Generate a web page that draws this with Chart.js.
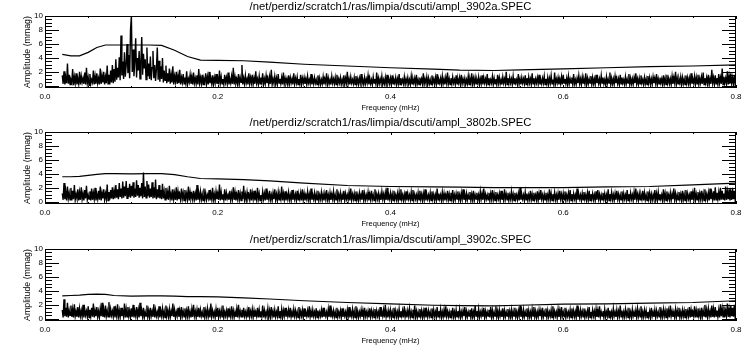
<!DOCTYPE html>
<html>
<head>
<meta charset="utf-8">
<script src="https://cdn.jsdelivr.net/npm/chart.js@4.4.1/dist/chart.umd.min.js"></script>
<style>
  body { margin: 0; background: #fff; }
  .panel { position: absolute; left: 0; width: 751px; height: 116px; }
</style>
</head>
<body>
<div class="panel" style="top:0px"><canvas id="c1" width="751" height="116"></canvas></div>
<div class="panel" style="top:116px"><canvas id="c2" width="751" height="116"></canvas></div>
<div class="panel" style="top:233px"><canvas id="c3" width="751" height="116"></canvas></div>
<script>
// spectrum frequency grid (mHz)
const freqStart = 0.02;
const freqStep = 0.001;

const titles = [
    '/net/perdiz/scratch1/ras/limpia/dscuti/ampl_3902a.SPEC',
    '/net/perdiz/scratch1/ras/limpia/dscuti/ampl_3802b.SPEC',
    '/net/perdiz/scratch1/ras/limpia/dscuti/ampl_3902c.SPEC'
];

const xTicks = [0, 0.2, 0.4, 0.6, 0.8];
const yTicks = [0, 2, 4, 6, 8, 10];

// amplitude spectra (mmag), one row = 0.02 mHz
const ampA = [
    1.5, 0.3, 2.1, 0.2, 1.2, 0.4, 3.2, 0.3, 1.6, 0.2, 0.9, 0.5, 2.4, 0.1, 1.3, 0.4, 1.8, 0.2, 1.0, 0.3,
    2.0, 0.2, 1.4, 0.5, 1.1, 0.3, 1.9, 0.2, 2.6, 0.4, 1.2, 0.1, 1.7, 0.3, 0.9, 0.5, 2.2, 0.2, 1.4, 0.3,
    1.8, 0.4, 1.1, 0.2, 2.5, 0.3, 1.5, 0.5, 2.0, 0.2, 1.3, 0.4, 2.9, 0.3, 1.6, 0.2, 2.2, 0.5, 3.0, 0.4,
    2.4, 0.6, 3.8, 0.9, 2.6, 1.2, 4.1, 0.8, 7.2, 1.5, 3.5, 1.0, 4.8, 1.3, 3.0, 6.0, 1.8, 4.4, 1.1, 8.0,
    10.0, 2.0, 5.2, 1.4, 3.6, 6.8, 1.2, 4.0, 2.2, 5.0, 1.0, 3.4, 7.0, 1.6, 4.6, 2.5, 3.8, 0.9, 5.5, 1.4,
    3.2, 1.0, 4.2, 0.8, 2.6, 5.0, 1.1, 3.0, 0.7, 2.4, 5.5, 0.9, 3.6, 0.6, 2.8, 1.0, 4.0, 0.5, 2.2, 0.8,
    2.9, 0.4, 1.8, 0.6, 2.5, 0.3, 1.6, 0.5, 2.8, 0.2, 1.4, 0.6, 2.0, 0.3, 1.5, 0.4, 2.3, 0.2, 1.2, 0.5,
    1.7, 0.3, 1.2, 0.4, 2.1, 0.2, 1.0, 0.5, 1.6, 0.3, 1.3, 0.2, 1.9, 0.4, 1.1, 0.3, 1.5, 0.2, 2.4, 0.4,
    1.2, 0.3, 1.6, 0.2, 1.0, 0.5, 1.8, 0.3, 1.3, 0.2, 2.0, 0.4, 1.1, 0.3, 1.5, 0.2, 1.2, 0.4, 1.7, 0.3,
    1.1, 0.2, 2.2, 0.4, 1.3, 0.3, 1.0, 0.2, 1.6, 0.5, 1.2, 0.3, 1.9, 0.2, 1.0, 0.4, 1.4, 0.3, 2.6, 0.2,
    1.3, 0.4, 1.0, 0.2, 1.7, 0.3, 1.2, 0.5, 3.0, 0.2, 1.1, 0.3, 1.5, 0.4, 1.0, 0.2, 1.8, 0.3, 1.2, 0.4,
    1.6, 0.2, 1.1, 0.3, 2.1, 0.4, 1.0, 0.2, 1.4, 0.3, 1.2, 0.5, 1.8, 0.2, 1.0, 0.3, 1.5, 0.4, 1.1, 0.2,
    1.3, 0.3, 2.3, 0.2, 1.0, 0.4, 1.4, 0.3, 1.1, 0.2, 1.7, 0.4, 1.0, 0.3, 1.2, 0.2, 1.9, 0.3, 1.1, 0.4,
    1.0, 0.2, 1.5, 0.3, 1.2, 0.4, 1.0, 0.2, 1.8, 0.3, 1.1, 0.4, 1.3, 0.2, 1.0, 0.3, 1.6, 0.2, 1.1, 0.4,
    1.2, 0.3, 1.0, 0.2, 1.4, 0.4, 0.9, 0.3, 1.7, 0.2, 1.0, 0.3, 1.2, 0.4, 0.9, 0.2, 1.5, 0.3, 1.1, 0.2,
    0.9, 0.3, 1.3, 0.2, 1.0, 0.4, 1.8, 0.2, 1.1, 0.3, 0.9, 0.2, 1.4, 0.4, 1.0, 0.3, 1.2, 0.2, 1.6, 0.3,
    1.0, 0.4, 1.2, 0.2, 0.9, 0.3, 1.5, 0.2, 1.1, 0.4, 2.0, 0.3, 1.0, 0.2, 1.3, 0.4, 0.9, 0.3, 1.2, 0.2,
    1.4, 0.3, 1.0, 0.2, 1.1, 0.4, 1.7, 0.3, 0.9, 0.2, 1.2, 0.3, 1.0, 0.4, 1.5, 0.2, 1.1, 0.3, 0.9, 0.2,
    1.3, 0.4, 1.0, 0.3, 1.9, 0.2, 1.1, 0.3, 1.0, 0.4, 1.4, 0.2, 0.9, 0.3, 1.2, 0.2, 1.6, 0.4, 1.0, 0.3,
    1.1, 0.2, 1.5, 0.3, 0.9, 0.4, 1.2, 0.2, 1.0, 0.3, 1.7, 0.2, 1.1, 0.4, 0.9, 0.3, 1.3, 0.2, 1.0, 0.4,
    1.2, 0.3, 0.9, 0.2, 1.4, 0.3, 1.0, 0.4, 1.1, 0.2, 1.6, 0.3, 0.9, 0.2, 1.2, 0.4, 1.0, 0.3, 1.8, 0.2,
    1.0, 0.4, 1.3, 0.2, 1.1, 0.3, 0.9, 0.2, 1.5, 0.4, 1.0, 0.3, 1.2, 0.2, 1.7, 0.3, 0.9, 0.4, 1.1, 0.2,
    1.4, 0.3, 1.0, 0.2, 1.2, 0.4, 1.9, 0.3, 1.0, 0.2, 1.1, 0.3, 1.3, 0.4, 0.9, 0.2, 1.5, 0.3, 1.0, 0.4,
    1.2, 0.2, 1.6, 0.3, 1.0, 0.4, 1.1, 0.2, 0.9, 0.3, 1.4, 0.2, 1.0, 0.4, 1.8, 0.3, 1.1, 0.2, 1.2, 0.3,
    0.9, 0.4, 1.3, 0.2, 1.0, 0.3, 1.5, 0.2, 1.2, 0.4, 1.0, 0.3, 1.7, 0.2, 1.1, 0.3, 0.9, 0.4, 1.4, 0.2,
    1.1, 0.3, 1.0, 0.2, 1.6, 0.4, 1.2, 0.3, 0.9, 0.2, 1.3, 0.4, 1.0, 0.3, 2.0, 0.2, 1.1, 0.3, 1.2, 0.4,
    1.0, 0.2, 1.4, 0.3, 1.1, 0.4, 0.9, 0.2, 1.7, 0.3, 1.0, 0.2, 1.2, 0.4, 1.0, 0.3, 1.5, 0.2, 1.1, 0.3,
    1.3, 0.4, 1.0, 0.2, 1.8, 0.3, 1.1, 0.2, 1.0, 0.4, 1.2, 0.3, 1.6, 0.2, 0.9, 0.3, 1.1, 0.4, 1.4, 0.2,
    1.0, 0.3, 1.2, 0.2, 1.1, 0.4, 1.5, 0.3, 0.9, 0.2, 1.9, 0.3, 1.0, 0.4, 1.2, 0.2, 1.0, 0.3, 1.3, 0.2,
    1.6, 0.4, 1.0, 0.3, 1.1, 0.2, 1.4, 0.3, 1.0, 0.4, 1.2, 0.2, 1.7, 0.3, 0.9, 0.2, 1.1, 0.4, 1.5, 0.3,
    1.0, 0.2, 1.3, 0.4, 0.9, 0.3, 1.8, 0.2, 1.1, 0.3, 1.0, 0.4, 1.4, 0.2, 1.2, 0.3, 1.0, 0.2, 1.6, 0.4,
    1.1, 0.3, 1.0, 0.2, 1.5, 0.4, 1.2, 0.3, 0.9, 0.2, 1.3, 0.3, 1.0, 0.4, 1.9, 0.2, 1.1, 0.3, 1.0, 0.2,
    1.4, 0.4, 1.1, 0.3, 1.0, 0.2, 1.6, 0.3, 1.2, 0.4, 0.9, 0.2, 1.3, 0.3, 1.0, 0.4, 1.7, 0.2, 1.1, 0.3,
    1.0, 0.2, 1.2, 0.4, 1.8, 0.3, 1.0, 0.2, 1.1, 0.3, 1.5, 0.4, 0.9, 0.2, 1.2, 0.3, 1.0, 0.2, 1.4, 0.4,
    1.2, 0.3, 1.0, 0.2, 1.3, 0.4, 1.1, 0.3, 1.7, 0.2, 1.0, 0.3, 1.2, 0.4, 1.0, 0.2, 1.5, 0.3, 1.1, 0.2,
    1.6, 0.4, 1.1, 0.3, 1.0, 0.2, 1.4, 0.3, 1.2, 0.4, 2.0, 0.2, 1.1, 0.3, 1.0, 0.4, 1.3, 0.2, 1.2, 0.3,
    1.0, 0.2, 1.5, 0.4, 1.2, 0.3, 1.1, 0.2, 1.8, 0.3, 1.0, 0.4, 1.4, 0.2, 1.2, 0.3, 1.6, 0.2, 1.1, 0.4,
    1.3, 0.3, 1.9, 0.2, 1.1, 0.4, 1.2, 0.3, 1.6, 0.2, 1.0, 0.3, 2.3, 0.4, 1.2, 0.2, 1.5, 0.3, 1.1, 0.2,
    1.7, 0.4, 1.2, 0.3, 2.5, 0.2, 1.3, 0.4, 1.1, 0.3, 2.1, 0.2, 1.4, 0.3, 1.8, 0.4, 1.2, 0.2, 1.6, 0.3,
    1.0
];
const ampB = [
    1.2, 0.3, 2.7, 0.4, 1.5, 0.2, 2.2, 0.5, 1.3, 0.3, 2.0, 0.2, 1.6, 0.4, 2.4, 0.3, 1.1, 0.5, 1.8, 0.2,
    1.4, 0.3, 2.1, 0.4, 1.2, 0.2, 1.7, 0.5, 2.3, 0.3, 1.0, 0.4, 1.5, 0.2, 1.9, 0.3, 1.3, 0.4, 2.0, 0.2,
    1.1, 0.4, 1.6, 0.3, 2.2, 0.2, 1.3, 0.5, 1.8, 0.3, 1.2, 0.4, 2.5, 0.2, 1.4, 0.3, 1.7, 0.5, 2.1, 0.4,
    1.6, 0.5, 2.4, 0.6, 1.8, 0.4, 2.7, 0.7, 1.9, 0.5, 2.9, 0.6, 2.2, 0.8, 3.0, 0.5, 2.0, 0.7, 2.6, 0.6,
    2.3, 0.8, 2.8, 0.6, 1.9, 0.7, 3.1, 0.9, 2.4, 0.6, 2.0, 0.8, 2.7, 0.5, 4.2, 0.7, 2.2, 0.6, 3.0, 0.8,
    2.5, 0.6, 1.9, 0.7, 2.8, 0.5, 2.1, 0.6, 3.2, 0.4, 1.8, 0.6, 2.4, 0.5, 1.7, 0.4, 2.6, 0.5, 1.5, 0.3,
    2.0, 0.4, 1.4, 0.3, 2.3, 0.5, 1.2, 0.2, 1.8, 0.4, 1.3, 0.3, 2.1, 0.2, 1.5, 0.4, 1.1, 0.3, 1.9, 0.5,
    1.3, 0.2, 1.7, 0.4, 1.2, 0.3, 2.2, 0.2, 1.4, 0.5, 1.1, 0.3, 1.6, 0.4, 1.2, 0.2, 2.4, 0.3, 1.3, 0.4,
    1.5, 0.3, 1.1, 0.2, 1.9, 0.4, 1.3, 0.3, 1.0, 0.5, 1.7, 0.2, 1.2, 0.4, 2.0, 0.3, 1.1, 0.2, 1.5, 0.4,
    1.2, 0.3, 2.5, 0.2, 1.4, 0.4, 1.1, 0.3, 1.8, 0.2, 1.3, 0.5, 1.0, 0.3, 1.6, 0.2, 1.2, 0.4, 2.1, 0.3,
    1.4, 0.2, 1.1, 0.4, 1.7, 0.3, 1.2, 0.2, 1.5, 0.4, 2.3, 0.3, 1.1, 0.2, 1.4, 0.5, 1.0, 0.3, 1.8, 0.2,
    1.3, 0.4, 1.6, 0.2, 1.1, 0.3, 2.0, 0.4, 1.2, 0.2, 1.0, 0.3, 1.5, 0.4, 1.2, 0.2, 1.9, 0.3, 1.1, 0.4,
    1.6, 0.3, 1.0, 0.2, 1.3, 0.4, 1.8, 0.3, 1.1, 0.2, 1.4, 0.3, 1.0, 0.4, 2.2, 0.2, 1.2, 0.3, 1.5, 0.2,
    1.1, 0.4, 1.4, 0.3, 1.0, 0.2, 1.7, 0.3, 1.2, 0.4, 1.1, 0.2, 1.6, 0.3, 1.0, 0.4, 1.3, 0.2, 1.8, 0.3,
    1.2, 0.2, 1.0, 0.4, 1.5, 0.3, 1.1, 0.2, 1.9, 0.3, 1.0, 0.4, 1.3, 0.2, 1.1, 0.3, 1.6, 0.2, 1.0, 0.4,
    1.4, 0.3, 1.1, 0.2, 1.2, 0.4, 1.7, 0.3, 1.0, 0.2, 1.3, 0.3, 1.1, 0.4, 1.5, 0.2, 1.0, 0.3, 1.8, 0.2,
    1.1, 0.4, 1.3, 0.2, 1.0, 0.3, 1.6, 0.2, 1.2, 0.4, 1.0, 0.3, 1.4, 0.2, 1.9, 0.3, 1.1, 0.4, 1.2, 0.2,
    1.5, 0.3, 1.0, 0.2, 1.3, 0.4, 1.1, 0.3, 1.7, 0.2, 1.2, 0.3, 1.0, 0.4, 1.4, 0.2, 1.1, 0.3, 1.6, 0.4,
    1.0, 0.2, 1.8, 0.3, 1.1, 0.4, 1.2, 0.2, 1.0, 0.3, 1.5, 0.4, 1.1, 0.2, 1.3, 0.3, 2.0, 0.2, 1.0, 0.4,
    1.3, 0.3, 1.1, 0.2, 1.6, 0.4, 1.0, 0.3, 1.2, 0.2, 1.4, 0.3, 1.8, 0.4, 1.0, 0.2, 1.1, 0.3, 1.5, 0.2,
    1.2, 0.4, 1.0, 0.3, 1.4, 0.2, 1.7, 0.3, 1.1, 0.4, 1.0, 0.2, 1.3, 0.3, 1.6, 0.4, 1.1, 0.2, 1.2, 0.3,
    1.8, 0.2, 1.1, 0.4, 1.0, 0.3, 1.3, 0.2, 1.5, 0.4, 1.1, 0.3, 1.0, 0.2, 1.9, 0.3, 1.2, 0.4, 1.0, 0.2,
    1.4, 0.3, 1.2, 0.2, 1.0, 0.4, 1.6, 0.3, 1.1, 0.2, 1.3, 0.4, 1.7, 0.2, 1.0, 0.3, 1.2, 0.4, 1.5, 0.3,
    1.0, 0.2, 1.3, 0.4, 1.8, 0.3, 1.1, 0.2, 1.2, 0.3, 1.0, 0.4, 1.4, 0.2, 1.1, 0.3, 1.6, 0.2, 1.0, 0.4,
    1.3, 0.3, 1.0, 0.2, 1.5, 0.4, 1.2, 0.3, 1.9, 0.2, 1.1, 0.4, 1.0, 0.3, 1.3, 0.2, 1.2, 0.4, 1.7, 0.3,
    1.1, 0.2, 1.4, 0.3, 1.0, 0.4, 1.2, 0.2, 1.6, 0.3, 1.0, 0.2, 1.8, 0.4, 1.1, 0.3, 1.3, 0.2, 1.0, 0.4,
    1.5, 0.3, 1.1, 0.2, 1.3, 0.4, 1.0, 0.3, 1.2, 0.2, 2.0, 0.3, 1.1, 0.4, 1.0, 0.2, 1.4, 0.3, 1.2, 0.2,
    1.0, 0.4, 1.6, 0.3, 1.1, 0.2, 1.3, 0.4, 1.0, 0.3, 1.5, 0.2, 1.2, 0.3, 1.7, 0.4, 1.0, 0.2, 1.1, 0.3,
    1.3, 0.2, 1.0, 0.4, 1.8, 0.3, 1.2, 0.2, 1.1, 0.4, 1.4, 0.3, 1.0, 0.2, 1.2, 0.3, 1.6, 0.4, 1.1, 0.2,
    1.2, 0.3, 1.5, 0.2, 1.0, 0.4, 1.3, 0.3, 1.7, 0.2, 1.1, 0.3, 1.2, 0.4, 1.0, 0.2, 1.9, 0.3, 1.1, 0.4,
    1.0, 0.2, 1.2, 0.3, 1.4, 0.4, 1.0, 0.2, 1.3, 0.3, 1.6, 0.2, 1.1, 0.4, 1.2, 0.3, 1.0, 0.2, 1.5, 0.3,
    1.7, 0.4, 1.1, 0.2, 1.0, 0.3, 1.3, 0.4, 1.2, 0.2, 1.0, 0.3, 1.8, 0.2, 1.1, 0.4, 1.4, 0.3, 1.0, 0.2,
    1.2, 0.3, 1.6, 0.4, 1.1, 0.2, 1.0, 0.3, 1.5, 0.2, 1.2, 0.4, 1.0, 0.3, 1.7, 0.2, 1.1, 0.3, 1.3, 0.4,
    1.0, 0.2, 1.4, 0.3, 1.9, 0.4, 1.1, 0.2, 1.2, 0.3, 1.0, 0.4, 1.6, 0.2, 1.3, 0.3, 1.0, 0.2, 1.5, 0.4,
    1.3, 0.3, 1.1, 0.2, 1.0, 0.4, 1.7, 0.3, 1.2, 0.2, 1.4, 0.3, 1.1, 0.4, 1.0, 0.2, 1.8, 0.3, 1.2, 0.2,
    1.5, 0.4, 1.0, 0.3, 1.3, 0.2, 1.1, 0.4, 1.9, 0.3, 1.2, 0.2, 1.0, 0.3, 1.4, 0.4, 1.1, 0.2, 1.6, 0.3,
    1.1, 0.2, 1.7, 0.3, 1.2, 0.4, 1.0, 0.2, 1.5, 0.3, 1.3, 0.4, 2.0, 0.2, 1.1, 0.3, 1.4, 0.2, 1.2, 0.4,
    1.6, 0.3, 1.2, 0.2, 1.8, 0.4, 1.1, 0.3, 1.3, 0.2, 1.9, 0.4, 1.2, 0.3, 1.5, 0.2, 2.1, 0.3, 1.3, 0.4,
    1.4, 0.2, 2.0, 0.3, 1.6, 0.4, 1.2, 0.2, 2.2, 0.3, 1.5, 0.4, 1.8, 0.2, 1.3, 0.3, 2.0, 0.4, 1.6, 0.3,
    1.1
];
const ampC = [
    1.3, 0.2, 2.8, 0.4, 1.6, 0.3, 2.3, 0.2, 1.2, 0.5, 1.9, 0.3, 1.4, 0.2, 2.1, 0.4, 1.1, 0.3, 1.7, 0.2,
    1.5, 0.4, 1.2, 0.3, 2.0, 0.2, 1.4, 0.5, 1.1, 0.3, 1.8, 0.2, 1.3, 0.4, 1.6, 0.3, 2.2, 0.2, 1.2, 0.4,
    1.7, 0.3, 1.1, 0.2, 1.5, 0.4, 2.3, 0.3, 1.3, 0.2, 1.9, 0.4, 1.2, 0.3, 2.4, 0.2, 1.4, 0.5, 1.1, 0.3,
    1.8, 0.2, 1.3, 0.4, 2.1, 0.3, 1.2, 0.2, 1.6, 0.4, 1.1, 0.3, 2.2, 0.2, 1.4, 0.3, 1.7, 0.4, 1.2, 0.2,
    1.5, 0.3, 2.0, 0.2, 1.1, 0.4, 1.7, 0.3, 1.3, 0.2, 2.3, 0.4, 1.2, 0.3, 1.6, 0.2, 1.0, 0.4, 1.9, 0.3,
    1.2, 0.2, 1.6, 0.4, 1.1, 0.3, 2.1, 0.2, 1.3, 0.4, 1.0, 0.3, 1.8, 0.2, 1.2, 0.4, 1.5, 0.3, 1.1, 0.2,
    1.9, 0.4, 1.2, 0.3, 1.4, 0.2, 1.1, 0.4, 2.2, 0.3, 1.3, 0.2, 1.0, 0.4, 1.6, 0.3, 1.2, 0.2, 1.7, 0.4,
    1.1, 0.3, 1.5, 0.2, 1.2, 0.4, 1.8, 0.3, 1.0, 0.2, 1.4, 0.3, 2.0, 0.4, 1.1, 0.2, 1.3, 0.3, 1.6, 0.2,
    1.3, 0.4, 1.0, 0.3, 1.7, 0.2, 1.2, 0.4, 1.5, 0.3, 1.1, 0.2, 2.2, 0.3, 1.2, 0.4, 1.0, 0.2, 1.4, 0.3,
    1.6, 0.2, 1.1, 0.4, 1.3, 0.3, 1.9, 0.2, 1.0, 0.4, 1.2, 0.3, 1.5, 0.2, 1.1, 0.3, 1.8, 0.4, 1.2, 0.2,
    1.0, 0.3, 1.4, 0.2, 2.0, 0.4, 1.1, 0.3, 1.3, 0.2, 1.6, 0.4, 1.0, 0.3, 1.2, 0.2, 1.7, 0.3, 1.1, 0.4,
    1.4, 0.2, 1.2, 0.3, 1.0, 0.4, 1.6, 0.2, 1.3, 0.3, 1.1, 0.4, 1.9, 0.2, 1.2, 0.3, 1.0, 0.4, 1.5, 0.2,
    1.2, 0.3, 1.7, 0.4, 1.1, 0.2, 1.3, 0.3, 1.0, 0.4, 1.8, 0.2, 1.1, 0.3, 1.4, 0.2, 1.2, 0.4, 1.6, 0.3,
    1.1, 0.4, 1.3, 0.2, 1.6, 0.3, 1.0, 0.2, 1.4, 0.4, 1.2, 0.3, 1.0, 0.2, 1.7, 0.3, 1.1, 0.4, 1.3, 0.2,
    1.5, 0.3, 1.0, 0.4, 1.2, 0.2, 1.8, 0.3, 1.1, 0.2, 1.3, 0.4, 1.0, 0.3, 1.5, 0.2, 1.2, 0.3, 1.0, 0.4,
    1.3, 0.2, 1.6, 0.3, 1.1, 0.4, 1.0, 0.2, 1.4, 0.3, 1.9, 0.2, 1.1, 0.4, 1.2, 0.3, 1.0, 0.2, 1.6, 0.3,
    1.0, 0.4, 1.2, 0.2, 1.5, 0.3, 1.1, 0.4, 1.0, 0.2, 1.3, 0.3, 1.7, 0.2, 1.0, 0.4, 1.4, 0.3, 1.1, 0.2,
    1.8, 0.3, 1.1, 0.2, 1.0, 0.4, 1.3, 0.3, 1.2, 0.2, 1.6, 0.4, 1.0, 0.3, 1.1, 0.2, 1.5, 0.3, 1.2, 0.4,
    1.1, 0.2, 1.4, 0.3, 1.2, 0.4, 1.0, 0.2, 1.7, 0.3, 1.1, 0.4, 1.3, 0.2, 2.0, 0.3, 1.0, 0.2, 1.2, 0.4,
    1.3, 0.3, 1.0, 0.2, 1.6, 0.4, 1.2, 0.3, 1.0, 0.2, 1.4, 0.3, 1.1, 0.4, 1.2, 0.2, 1.8, 0.3, 1.0, 0.2,
    1.2, 0.4, 1.5, 0.3, 1.0, 0.2, 1.3, 0.4, 1.9, 0.3, 1.1, 0.2, 1.0, 0.3, 1.4, 0.4, 1.2, 0.2, 1.1, 0.3,
    1.6, 0.2, 1.1, 0.3, 1.2, 0.4, 1.0, 0.2, 1.5, 0.3, 1.3, 0.4, 1.0, 0.2, 1.7, 0.3, 1.1, 0.4, 1.4, 0.2,
    1.0, 0.3, 1.3, 0.2, 1.8, 0.4, 1.1, 0.3, 1.0, 0.2, 1.2, 0.4, 1.6, 0.3, 1.0, 0.2, 1.3, 0.3, 1.1, 0.4,
    1.4, 0.2, 1.0, 0.3, 1.2, 0.4, 1.7, 0.2, 1.1, 0.3, 1.0, 0.4, 1.3, 0.2, 1.5, 0.3, 1.0, 0.2, 1.9, 0.4,
    1.1, 0.3, 1.4, 0.2, 1.0, 0.4, 1.2, 0.3, 1.6, 0.2, 1.1, 0.3, 1.0, 0.4, 1.3, 0.2, 1.7, 0.3, 1.2, 0.2,
    1.0, 0.4, 1.8, 0.3, 1.1, 0.2, 1.3, 0.4, 1.0, 0.3, 1.5, 0.2, 1.2, 0.3, 1.0, 0.4, 1.4, 0.2, 1.1, 0.3,
    1.3, 0.2, 1.1, 0.4, 1.6, 0.3, 1.0, 0.2, 1.2, 0.4, 1.9, 0.3, 1.1, 0.2, 1.3, 0.3, 1.0, 0.4, 1.5, 0.2,
    1.2, 0.3, 1.0, 0.2, 1.4, 0.4, 1.7, 0.3, 1.1, 0.2, 1.0, 0.3, 1.3, 0.4, 1.2, 0.2, 1.6, 0.3, 1.0, 0.4,
    1.5, 0.2, 1.2, 0.3, 1.0, 0.4, 1.3, 0.2, 1.8, 0.3, 1.1, 0.4, 1.0, 0.2, 1.4, 0.3, 1.2, 0.2, 1.7, 0.4,
    1.0, 0.3, 1.6, 0.2, 1.1, 0.4, 1.0, 0.3, 1.3, 0.2, 1.5, 0.4, 1.2, 0.3, 1.0, 0.2, 1.9, 0.3, 1.1, 0.2,
    1.3, 0.4, 1.1, 0.3, 1.5, 0.2, 1.0, 0.4, 1.2, 0.3, 1.7, 0.2, 1.0, 0.3, 1.3, 0.4, 1.1, 0.2, 1.4, 0.3,
    1.2, 0.2, 1.8, 0.3, 1.0, 0.4, 1.1, 0.2, 1.4, 0.3, 1.0, 0.4, 1.6, 0.2, 1.2, 0.3, 1.0, 0.2, 1.5, 0.4,
    1.0, 0.3, 1.3, 0.2, 1.1, 0.4, 1.9, 0.3, 1.2, 0.2, 1.0, 0.3, 1.4, 0.4, 1.1, 0.2, 1.6, 0.3, 1.0, 0.2,
    1.4, 0.4, 1.0, 0.3, 1.2, 0.2, 1.5, 0.4, 1.1, 0.3, 1.8, 0.2, 1.0, 0.3, 1.3, 0.4, 1.2, 0.2, 1.0, 0.3,
    1.1, 0.2, 1.6, 0.4, 1.0, 0.3, 1.3, 0.2, 1.2, 0.4, 1.0, 0.3, 1.7, 0.2, 1.1, 0.3, 1.4, 0.4, 1.2, 0.2,
    1.5, 0.3, 1.2, 0.2, 1.9, 0.4, 1.1, 0.3, 1.0, 0.2, 1.4, 0.3, 1.2, 0.4, 1.6, 0.2, 1.0, 0.3, 1.3, 0.4,
    1.2, 0.2, 1.4, 0.3, 1.1, 0.4, 1.7, 0.2, 1.3, 0.3, 1.0, 0.4, 1.8, 0.2, 1.2, 0.3, 1.5, 0.4, 1.1, 0.2,
    1.6, 0.3, 1.2, 0.4, 2.0, 0.2, 1.3, 0.3, 1.5, 0.4, 1.1, 0.2, 1.9, 0.3, 1.4, 0.2, 1.7, 0.4, 1.2, 0.3,
    1.3, 0.2, 2.1, 0.4, 1.5, 0.3, 1.8, 0.2, 1.2, 0.4, 2.2, 0.3, 1.4, 0.2, 1.9, 0.4, 1.6, 0.3, 2.0, 0.2,
    1.0
];

// significance threshold curves
const threshFreq = [0.02, 0.03, 0.04, 0.05, 0.06, 0.07, 0.08, 0.10, 0.12, 0.135, 0.15, 0.165, 0.18, 0.20,
                    0.23, 0.26, 0.30, 0.35, 0.40, 0.45, 0.48, 0.52, 0.55, 0.60, 0.65, 0.70, 0.75, 0.80];
const threshA = [4.5, 4.3, 4.3, 4.8, 5.5, 5.85, 5.85, 5.85, 5.85, 5.8, 5.1, 4.2, 3.7, 3.65,
                 3.6, 3.4, 3.1, 2.85, 2.6, 2.4, 2.25, 2.2, 2.3, 2.45, 2.6, 2.75, 2.85, 3.0];
const threshB = [3.6, 3.6, 3.65, 3.8, 3.95, 4.05, 4.05, 4.0, 4.05, 4.05, 3.9, 3.6, 3.35, 3.3,
                 3.2, 3.0, 2.7, 2.35, 2.2, 2.15, 2.1, 2.05, 2.05, 2.05, 2.15, 2.2, 2.45, 2.7];
const threshC = [3.3, 3.35, 3.4, 3.5, 3.55, 3.5, 3.35, 3.25, 3.3, 3.3, 3.25, 3.2, 3.2, 3.15,
                 3.0, 2.85, 2.6, 2.35, 2.15, 1.95, 1.9, 1.85, 1.95, 2.1, 2.15, 2.25, 2.35, 2.6];

const font = "'Liberation Sans', Arial, sans-serif";

// IDL style box with inward ticks on all four sides
const boxTicks = {
    id: 'boxTicks',
    afterDraw(chart) {
        const { ctx, chartArea: a, scales: { x, y } } = chart;
        ctx.save();
        ctx.strokeStyle = '#000';
        ctx.lineWidth = 1;
        ctx.strokeRect(a.left + 0.5, a.top + 0.5, a.right - a.left - 1, a.bottom - a.top - 1);
        ctx.beginPath();
        for (let k = 0; k <= 20; k++) {
            const py = Math.round(y.getPixelForValue(k * 0.5)) + 0.5;
            const len = k % 4 === 0 ? 14 : 7;
            ctx.moveTo(a.left, py); ctx.lineTo(a.left + len, py);
            ctx.moveTo(a.right, py); ctx.lineTo(a.right - len, py);
        }
        for (let k = 0; k <= 16; k++) {
            const px = Math.round(x.getPixelForValue(k * 0.05)) + 0.5;
            const len = k % 4 === 0 ? 3 : 2;
            ctx.moveTo(px, a.top); ctx.lineTo(px, a.top + len);
            ctx.moveTo(px, a.bottom); ctx.lineTo(px, a.bottom - len);
        }
        ctx.stroke();
        ctx.restore();
    }
};

function makePanel(id, title, amp, thresh) {
    const spectrum = amp.map((v, i) => ({ x: freqStart + i * freqStep, y: v }));
    const limit = thresh.map((v, i) => ({ x: threshFreq[i], y: v }));
    new Chart(document.getElementById(id), {
        type: 'line',
        data: {
            datasets: [
                { data: spectrum, borderColor: '#000', borderWidth: 1.4, pointRadius: 0, tension: 0 },
                { data: limit, borderColor: '#000', borderWidth: 1.2, pointRadius: 0, tension: 0 }
            ]
        },
        options: {
            responsive: false,
            animation: false,
            events: [],
            layout: { padding: { left: 22, right: 15, top: 0, bottom: 0 } },
            plugins: {
                legend: { display: false },
                tooltip: { enabled: false },
                title: {
                    display: true,
                    text: title,
                    fullSize: false,
                    color: '#000',
                    font: { family: font, size: 11.3, weight: 'normal', lineHeight: 1 },
                    padding: { top: 1.5, bottom: 3.2 }
                }
            },
            scales: {
                x: {
                    type: 'linear',
                    min: 0,
                    max: 0.8,
                    grid: { display: false, drawTicks: false },
                    border: { display: false },
                    afterBuildTicks: s => { s.ticks = xTicks.map(v => ({ value: v })); },
                    afterFit: s => { s.height = 28; },
                    ticks: {
                        color: '#000',
                        padding: 4,
                        maxRotation: 0,
                        font: { family: font, size: 8 },
                        callback: v => v.toFixed(1)
                    },
                    title: {
                        display: true,
                        text: 'Frequency (mHz)',
                        color: '#000',
                        font: { family: font, size: 7.5, lineHeight: 1.2 },
                        padding: { top: 0, bottom: 4 }
                    }
                },
                y: {
                    min: -0.3,
                    max: 10,
                    grid: { display: false, drawTicks: false },
                    border: { display: false },
                    afterBuildTicks: s => { s.ticks = yTicks.map(v => ({ value: v })); },
                    afterFit: s => { s.width = 23; },
                    ticks: {
                        color: '#000',
                        padding: 2,
                        font: { family: font, size: 8 }
                    },
                    title: {
                        display: true,
                        text: 'Amplitude (mmag)',
                        color: '#000',
                        font: { family: font, size: 8.8, lineHeight: 1.2 },
                        padding: { top: 0, bottom: 0 }
                    }
                }
            }
        },
        plugins: [boxTicks]
    });
}

makePanel('c1', titles[0], ampA, threshA);
makePanel('c2', titles[1], ampB, threshB);
makePanel('c3', titles[2], ampC, threshC);
</script>
</body>
</html>
